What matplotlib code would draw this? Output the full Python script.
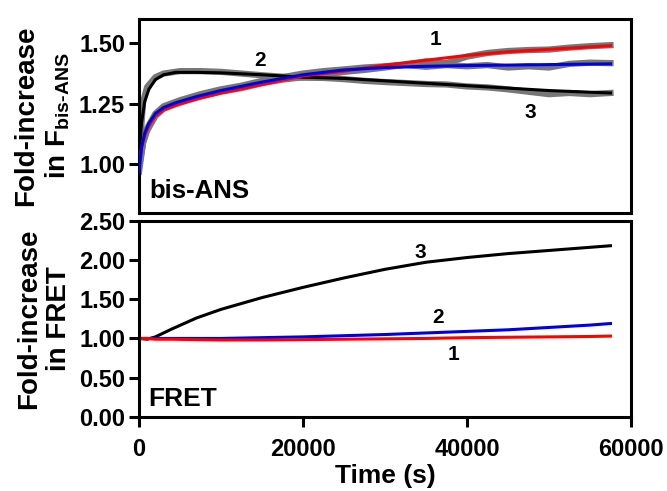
import matplotlib
matplotlib.use("Agg")
import matplotlib.pyplot as plt

plt.rcParams["font.family"] = ["Liberation Sans", "DejaVu Sans"]
plt.rcParams["font.weight"] = "bold"
plt.rcParams["axes.labelweight"] = "bold"
plt.rcParams["mathtext.fontset"] = "custom"
plt.rcParams["mathtext.rm"] = "Liberation Sans:bold"
plt.rcParams["mathtext.bf"] = "Liberation Sans:bold"

# bis-ANS panel: fitted curves
t_ans = [0, 300, 700, 1200, 2000, 3000, 4500, 7000, 10000, 15000, 20000,
         25000, 30000, 35000, 40000, 45000, 50000, 55000, 57500]
ans_1 = [0.99, 1.07, 1.12, 1.16, 1.20, 1.225, 1.245, 1.27, 1.295, 1.33, 1.365,
         1.385, 1.41, 1.43, 1.45, 1.465, 1.475, 1.485, 1.49]
ans_2 = [0.97, 1.07, 1.13, 1.17, 1.21, 1.235, 1.255, 1.28, 1.305, 1.34, 1.37,
         1.39, 1.40, 1.405, 1.408, 1.41, 1.412, 1.414, 1.415]
ans_3 = [1.03, 1.17, 1.26, 1.31, 1.35, 1.37, 1.38, 1.38, 1.378, 1.37, 1.36,
         1.355, 1.345, 1.335, 1.325, 1.315, 1.305, 1.298, 1.295]

# bis-ANS panel: raw traces (grey)
t_raw = [0, 500, 1000, 2000, 3000, 5000, 7500, 10000, 12500, 15000, 17500,
         20000, 22500, 25000, 27500, 30000, 32500, 35000, 37500, 40000,
         42500, 45000, 47500, 50000, 52500, 55000, 57500]
raw_1 = [0.99, 1.09, 1.14, 1.20, 1.23, 1.255, 1.28, 1.30, 1.315, 1.335, 1.35,
         1.36, 1.37, 1.382, 1.39, 1.40, 1.412, 1.425, 1.418, 1.445, 1.46,
         1.468, 1.472, 1.474, 1.482, 1.488, 1.492]
raw_2 = [0.97, 1.09, 1.15, 1.21, 1.24, 1.265, 1.29, 1.31, 1.325, 1.345, 1.36,
         1.375, 1.385, 1.392, 1.40, 1.405, 1.41, 1.403, 1.41, 1.405, 1.41,
         1.40, 1.405, 1.40, 1.415, 1.42, 1.418]
raw_3 = [1.03, 1.26, 1.32, 1.36, 1.375, 1.385, 1.385, 1.382, 1.375, 1.368,
         1.362, 1.358, 1.357, 1.352, 1.345, 1.34, 1.336, 1.332, 1.33, 1.322,
         1.318, 1.31, 1.30, 1.29, 1.295, 1.29, 1.295]

# FRET panel
t_fret = [0, 1000, 2000, 4000, 7000, 10000, 15000, 20000, 25000, 30000,
          35000, 40000, 45000, 50000, 55000, 57500]
fret_1 = [1.0, 1.0, 0.99, 0.99, 0.985, 0.98, 0.98, 0.985, 0.99, 0.995,
          1.0, 1.01, 1.015, 1.02, 1.025, 1.03]
fret_2 = [1.0, 1.0, 1.0, 1.0, 1.0, 1.0, 1.01, 1.02, 1.035, 1.05,
          1.07, 1.09, 1.11, 1.14, 1.17, 1.19]
fret_3 = [1.0, 0.99, 1.02, 1.12, 1.26, 1.37, 1.52, 1.65, 1.77, 1.88,
          1.97, 2.03, 2.08, 2.12, 2.16, 2.18]

red, blue, black = "#ff0000", "#0000e6", "black"
lw = 2.2

fig = plt.figure(figsize=(6.67, 4.91), dpi=100)
ax1 = fig.add_axes([0.2084, 0.5662, 0.7376, 0.3951])
ax2 = fig.add_axes([0.2084, 0.1507, 0.7376, 0.4000])

for ax in (ax1, ax2):
    for sp in ax.spines.values():
        sp.set_linewidth(2.2)
    ax.tick_params(width=2.2, length=7, pad=3, labelsize=17)
    ax.set_xlim(0, 60000)

for ys in (raw_1, raw_2, raw_3):
    ax1.plot(t_raw, ys, color="#777777", lw=4.5, zorder=1)
ax1.plot(t_ans, ans_3, color=black, lw=lw, zorder=2)
ax1.plot(t_ans, ans_1, color=red, lw=lw, zorder=3)
ax1.plot(t_ans, ans_2, color=blue, lw=lw, zorder=4)
ax1.set_ylim(0.8, 1.6)
ax1.set_yticks([1.00, 1.25, 1.50])
ax1.set_yticklabels(["1.00", "1.25", "1.50"])
ax1.set_xticks([])
ax1.text(36100, 1.514, "1", fontsize=15, ha="center", va="center")
ax1.text(14750, 1.43, "2", fontsize=15, ha="center", va="center")
ax1.text(47700, 1.215, "3", fontsize=15, ha="center", va="center")
ax1.text(0.022, 0.05, "bis-ANS", transform=ax1.transAxes, fontsize=18.5,
         ha="left", va="bottom")
ax1.set_ylabel("Fold-increase\nin F$_{\\mathrm{bis\\text{-}ANS}}$", fontsize=20,
               labelpad=5, linespacing=1.2)

ax2.plot(t_fret, fret_3, color=black, lw=lw)
ax2.plot(t_fret, fret_2, color=blue, lw=lw)
ax2.plot(t_fret, fret_1, color=red, lw=lw)
ax2.set_ylim(0, 2.5)
ax2.set_yticks([0, 0.5, 1.0, 1.5, 2.0, 2.5])
ax2.set_yticklabels(["0.00", "0.50", "1.00", "1.50", "2.00", "2.50"])
ax2.set_xticks([0, 20000, 40000, 60000])
ax2.tick_params(axis="x", pad=8, labelsize=17)
ax2.text(34300, 2.09, "3", fontsize=15, ha="center", va="center")
ax2.text(36500, 1.27, "2", fontsize=15, ha="center", va="center")
ax2.text(38300, 0.79, "1", fontsize=15, ha="center", va="center")
ax2.text(0.018, 0.03, "FRET", transform=ax2.transAxes, fontsize=19,
         ha="left", va="bottom")
ax2.set_ylabel("Fold-increase\nin FRET", fontsize=20, labelpad=5,
               linespacing=1.2)
ax2.set_xlabel("Time (s)", fontsize=19, labelpad=2)

fig.align_ylabels([ax1, ax2])
fig.savefig("out.png", dpi=100)
